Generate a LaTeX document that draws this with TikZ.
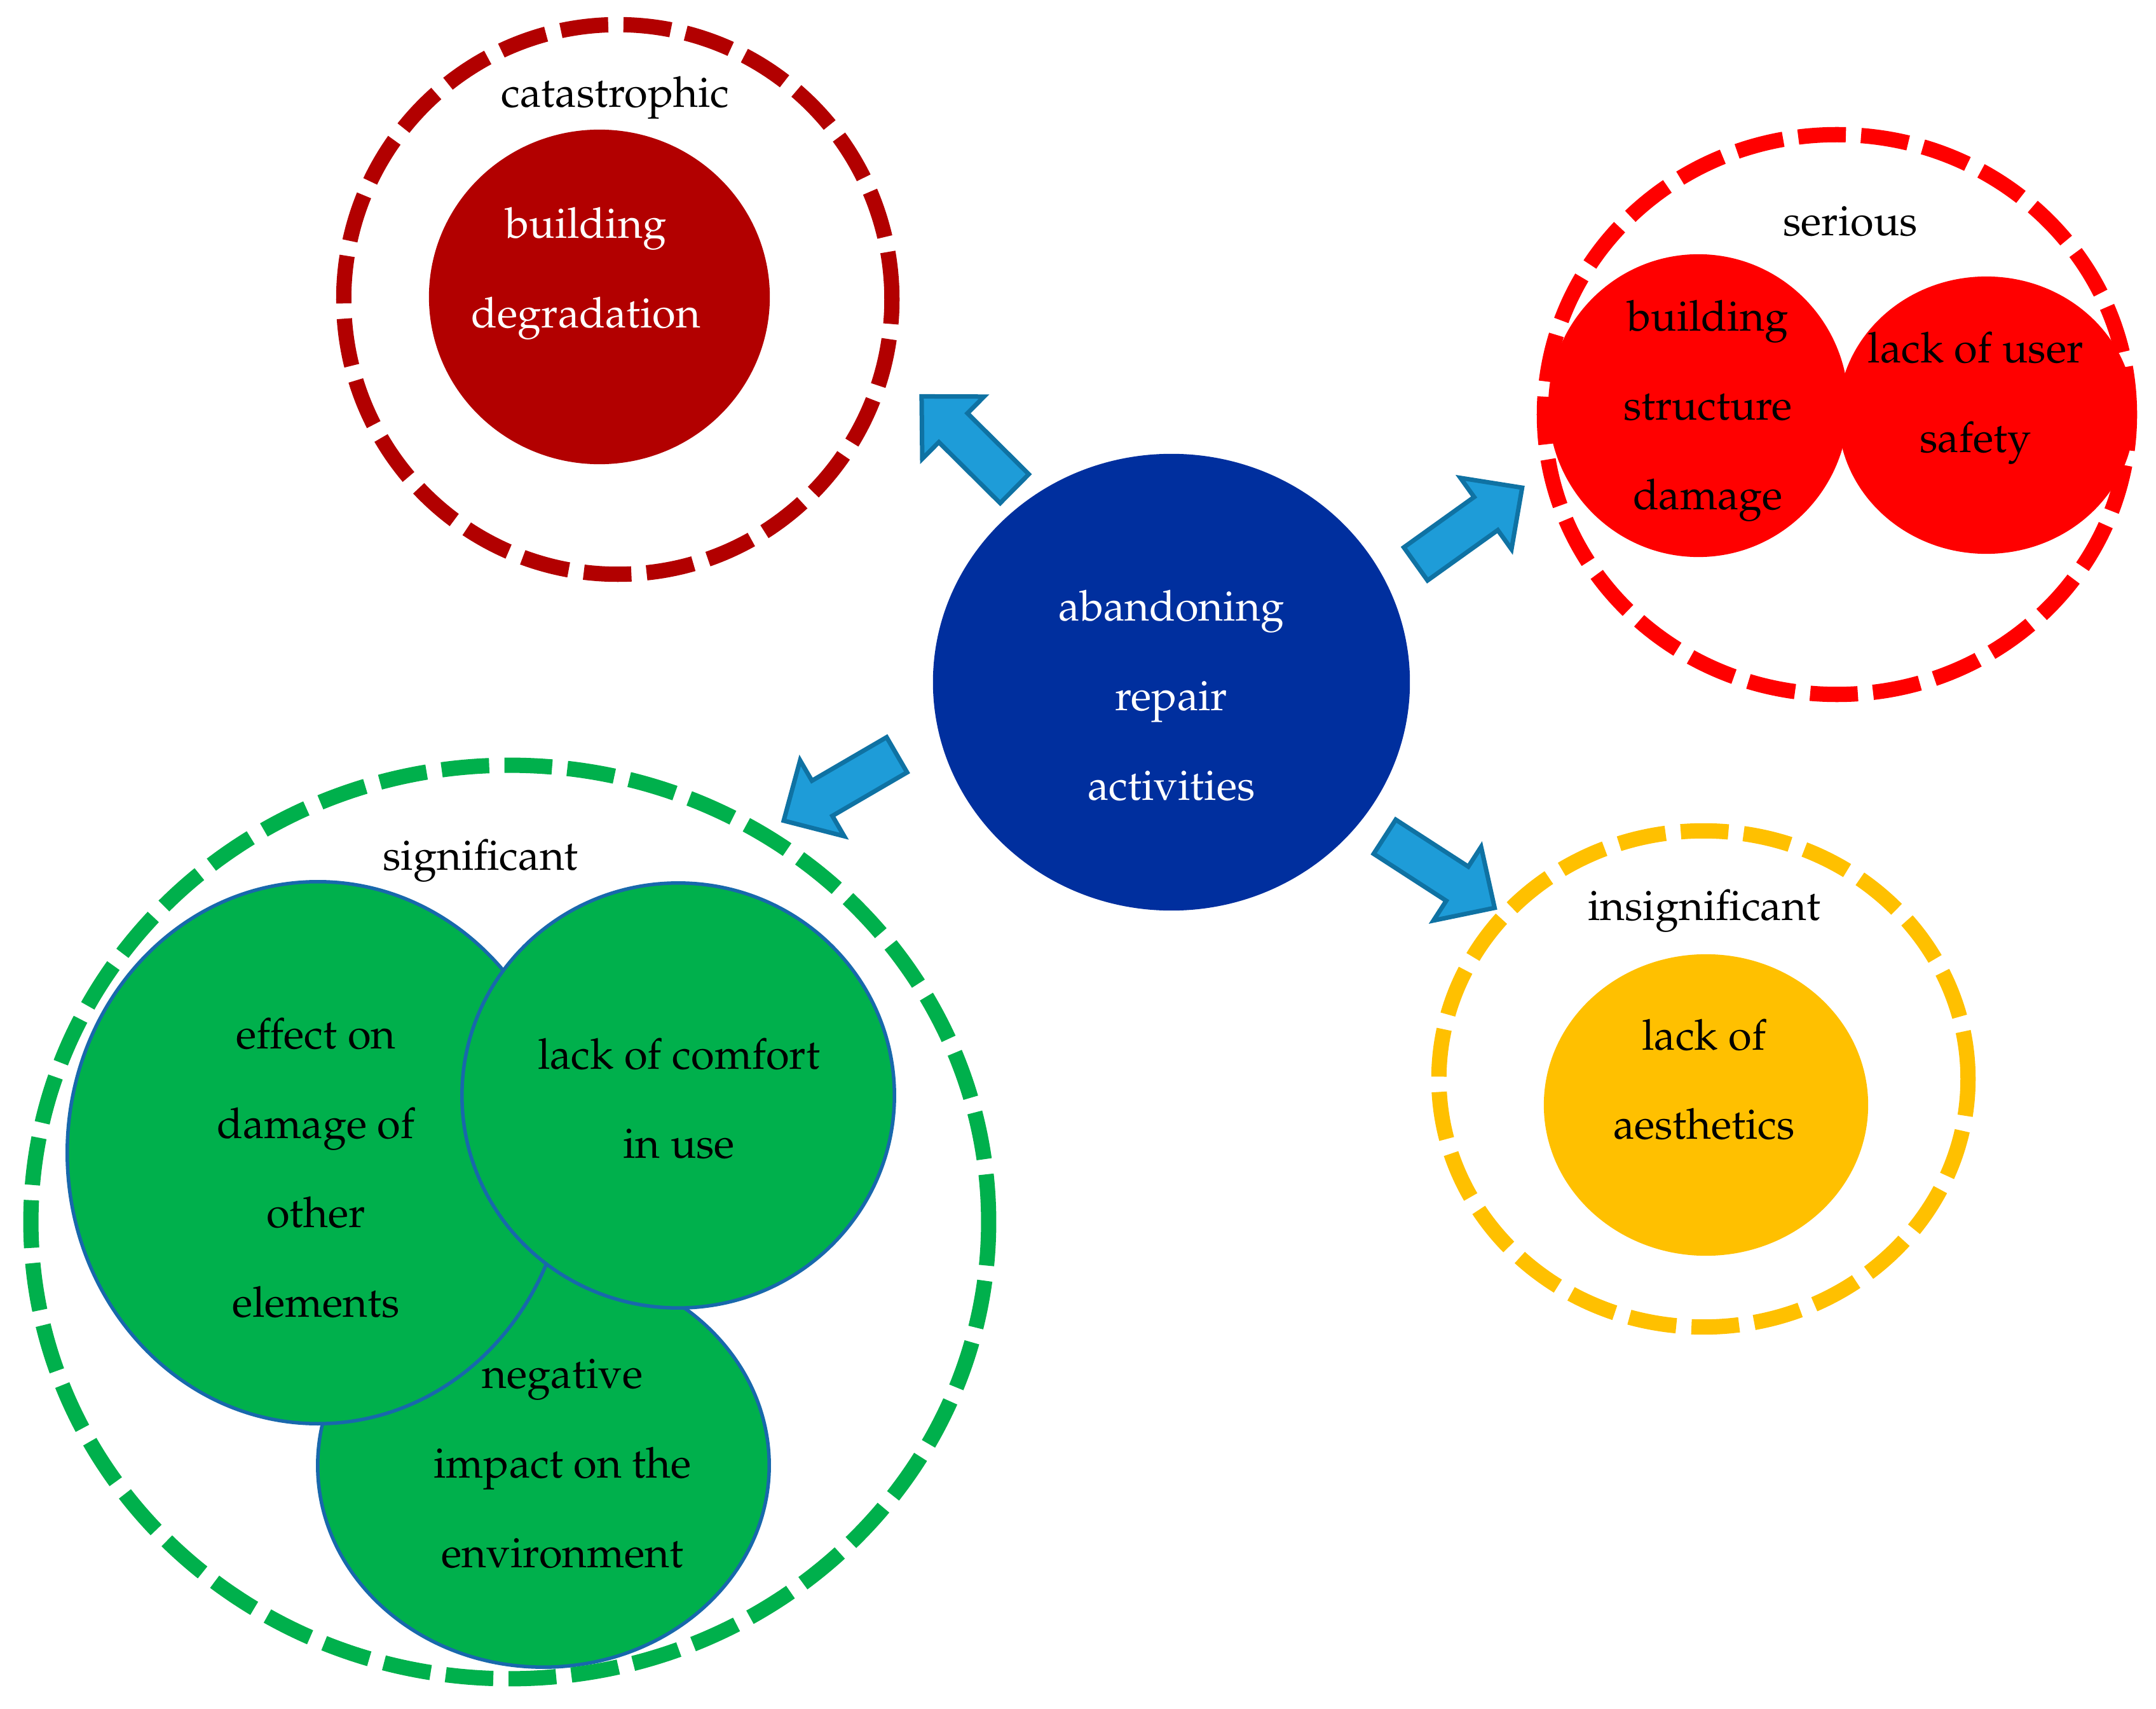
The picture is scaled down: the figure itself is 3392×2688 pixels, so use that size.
\documentclass[tikz,border=0pt]{standalone}
\usepackage[T1]{fontenc}
\usepackage{mathpazo}
\usetikzlibrary{shapes.geometric}
\definecolor{catred}{RGB}{178,0,0}
\definecolor{serred}{RGB}{255,0,0}
\definecolor{centblue}{RGB}{0,47,158}
\definecolor{sigfill}{RGB}{0,176,76}
\definecolor{sigline}{RGB}{24,104,172}
\definecolor{insyel}{RGB}{255,192,0}
\definecolor{arrfill}{RGB}{30,156,216}
\definecolor{arrline}{RGB}{15,114,163}
\begin{document}
\begin{tikzpicture}[x=0.01cm,y=-0.01cm,
  ring/.style={ellipse, inner sep=0pt, line width=0.24cm, dash pattern=on 0.75cm off 0.24cm},
  blob/.style={ellipse, inner sep=0pt, draw=none},
  gblob/.style={ellipse, inner sep=0pt, fill=sigfill, draw=sigline, line width=0.055cm},
  lbl/.style={font=\fontsize{19}{40}\selectfont, align=center, inner sep=0pt},
  barrow/.style={fill=arrfill, draw=arrline, line width=0.07cm, line join=miter},
  pics/blockarr/.style={code={\draw[barrow] (-103,-32) -- (33,-32) -- (33,-69) -- (103,0) -- (33,69) -- (33,32) -- (-103,32) -- cycle;}}
]
\useasboundingbox (0,0) rectangle (3392,2688);

% filled shapes
\node[blob, fill=catred, minimum width=5.36cm, minimum height=5.26cm] (degr) at (943,467) {};
\node[blob, fill=serred, minimum width=4.72cm, minimum height=4.76cm] (struct) at (2672,638) {};
\node[blob, fill=serred, minimum width=4.66cm, minimum height=4.36cm] (safety) at (3125,653) {};
\node[blob, fill=centblue, minimum width=7.50cm, minimum height=7.18cm] (center) at (1843,1073) {};
\node[gblob, minimum width=7.10cm, minimum height=6.34cm] (negative) at (855,2305) {};
\node[gblob, minimum width=7.88cm, minimum height=8.52cm] (effect) at (500,1813) {};
\node[gblob, minimum width=6.80cm, minimum height=6.68cm] (comfort) at (1067,1723) {};
\node[blob, fill=insyel, minimum width=5.10cm, minimum height=4.74cm] (aesth) at (2684,1738) {};

% dashed rings
\node[ring, draw=catred, minimum width=8.62cm, minimum height=8.64cm] (catring) at (972,471) {};
\node[ring, draw=serred, minimum width=9.20cm, minimum height=8.80cm] (serring) at (2890,652) {};
\node[ring, draw=sigfill, minimum width=15.06cm, minimum height=14.36cm] (sigring) at (802,1922) {};
\node[ring, draw=insyel, minimum width=8.32cm, minimum height=7.80cm] (insring) at (2680,1697) {};

% block arrows
\pic[rotate=135.2] (arrcat) at (1523,696) {blockarr};
\pic[rotate=35.6] (arrser) at (2311,827) {blockarr};
\pic[rotate=-32.9] (arrins) at (2265,1372) {blockarr};
\pic[rotate=-149.8] (arrsig) at (1322,1239) {blockarr};

% labels
\node[lbl] (tcat) at (968,154) {catastrophic};
\node[lbl, text=white] (tdegr) at (922,430) {building\\degradation};
\node[lbl] (tser) at (2911,348) {serious};
\node[lbl] (tstruct) at (2687,646) {building\\structure\\damage};
\node[lbl] (tsafety) at (3108,626) {lack of user\\safety};
\node[lbl, text=white] (tcenter) at (1843,1094) {abandoning\\repair\\activities};
\node[lbl] (tsig) at (756,1354) {significant};
\node[lbl] (teffect) at (497,1837) {effect on\\damage of\\other\\elements};
\node[lbl] (tcomfort) at (1068,1728) {lack of comfort\\in use};
\node[lbl] (tneg) at (885,2302) {negative\\impact on the\\environment};
\node[lbl] (tins) at (2681,1433) {insignificant};
\node[lbl] (taesth) at (2681,1698) {lack of\\aesthetics};
\end{tikzpicture}
\end{document}
